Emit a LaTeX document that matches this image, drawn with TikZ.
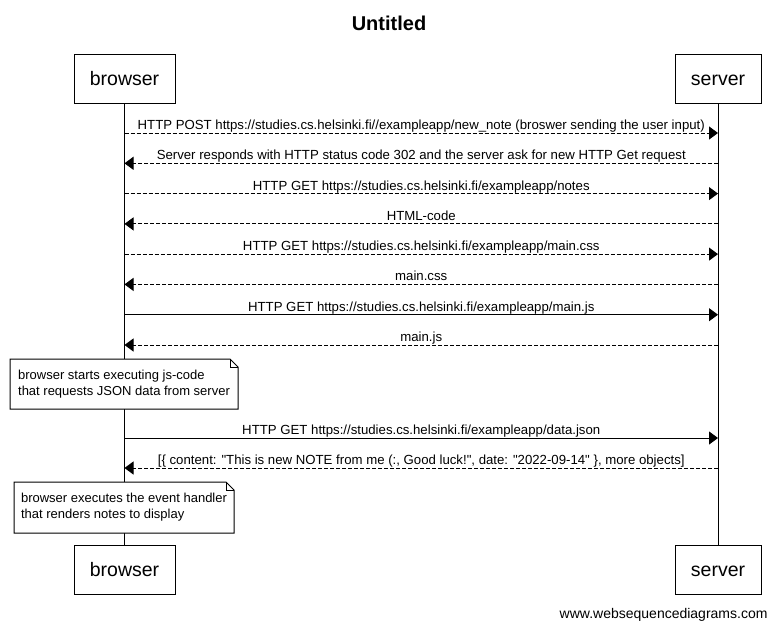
\documentclass[tikz,border=0pt]{standalone}
\usepackage{fontspec}
\setmainfont{Liberation Sans}
\usetikzlibrary{arrows.meta}

\begin{document}
\begin{tikzpicture}[x=1pt,y=-1pt,line width=1pt]
    \tikzstyle{actor}=[draw,fill=white,minimum height=49pt,inner sep=0pt,text height=14pt,text depth=1pt,font=\fontsize{19.5}{22}\selectfont]
    \tikzstyle{msg}=[-{Triangle[length=9pt,width=13pt]}]
    \tikzstyle{reply}=[msg,dash pattern=on 4pt off 2pt]
    \tikzstyle{lbl}=[anchor=base,yshift=3.5pt,inner sep=0pt,font=\fontsize{13.2}{15}\selectfont]
    \tikzstyle{note}=[anchor=north west,align=left,inner sep=0pt,font=\fontsize{13}{16}\selectfont]
\useasboundingbox (0,0) rectangle (776,627);

\node[font=\fontsize{20}{24}\selectfont\bfseries,anchor=base] (title) at (389,30) {Untitled};

\node[actor,minimum width=101pt] (bt) at (124.5,78.5) {browser};
\node[actor,minimum width=86pt] (st) at (718,78.5) {server};
\node[actor,minimum width=101pt] (bb) at (124.5,569.5) {browser};
\node[actor,minimum width=86pt] (sb) at (718,569.5) {server};

\draw (bt) -- (bb);
\draw (st) -- (sb);

\foreach \i/\y in {1/133,2/163.3,3/193.6,4/223.9,5/254.1,6/284.4,7/314.7,8/345,9/438,10/468} {
    \coordinate (b\i) at (124.5,\y);
    \coordinate (s\i) at (718,\y);
}

\draw[reply] (b1) -- node[lbl] {HTTP POST https://studies.cs.helsinki.fi//exampleapp/new\_note (broswer sending the user input)} (s1);
\draw[reply] (s2) -- node[lbl] {Server responds with HTTP status code 302 and the server ask for new HTTP Get request} (b2);
\draw[reply] (b3) -- node[lbl] {HTTP GET https://studies.cs.helsinki.fi/exampleapp/notes} (s3);
\draw[reply] (s4) -- node[lbl] {HTML-code} (b4);
\draw[reply] (b5) -- node[lbl] {HTTP GET https://studies.cs.helsinki.fi/exampleapp/main.css} (s5);
\draw[reply] (s6) -- node[lbl] {main.css} (b6);
\draw[msg] (b7) -- node[lbl] {HTTP GET https://studies.cs.helsinki.fi/exampleapp/main.js} (s7);
\draw[reply] (s8) -- node[lbl] {main.js} (b8);

\node[note,minimum width=227pt,minimum height=49pt] (n1) at (10,359) {browser starts executing js-code\\that requests JSON data from server};

\draw[msg] (b9) -- node[lbl] {HTTP GET https://studies.cs.helsinki.fi/exampleapp/data.json} (s9);
\draw[reply] (s10) -- node[lbl] {[\{ content: \textquotedbl This is new NOTE from me (:, Good luck!\textquotedbl, date: \textquotedbl 2022-09-14\textquotedbl\ \}, more objects]} (b10);

\node[note,minimum width=219pt,minimum height=50pt] (n2) at (14,482) {browser executes the event handler\\that renders notes to display};

\foreach \n in {n1,n2} {
    \draw[fill=white,line join=miter] (\n.north west) -- ([xshift=-8pt]\n.north east) -- ([yshift=-8pt]\n.north east) -- (\n.south east) -- (\n.south west) -- cycle;
    \draw ([xshift=-8pt]\n.north east) -- ([xshift=-8pt,yshift=-8pt]\n.north east) -- ([yshift=-8pt]\n.north east);
}
\node[note,minimum width=227pt,minimum height=49pt] at (10,359) {browser starts executing js-code\\that requests JSON data from server};
\node[note,minimum width=219pt,minimum height=50pt] at (14,482) {browser executes the event handler\\that renders notes to display};

\node[anchor=base east,inner sep=0pt,font=\fontsize{14}{16}\selectfont] (credit) at (768,618) {www.websequencediagrams.com};
\end{tikzpicture}
\end{document}
